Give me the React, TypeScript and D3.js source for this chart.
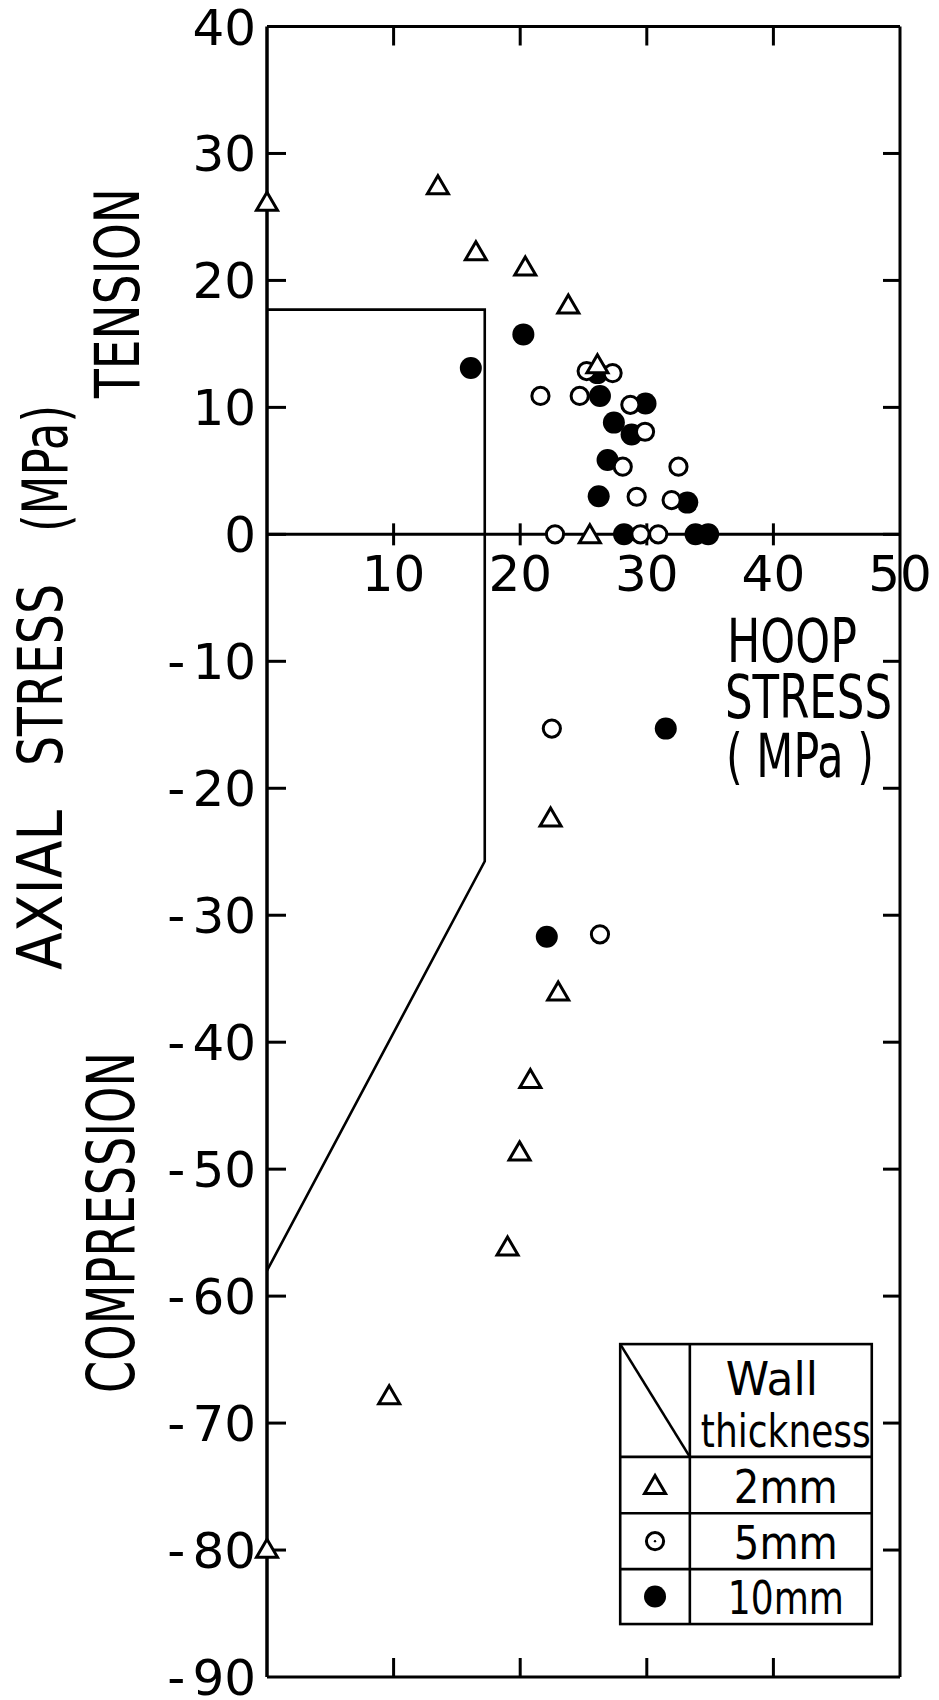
import * as d3 from "d3";

// hoop stress / axial stress, MPa
const hoopTicks = [10, 20, 30, 40, 50];
const axialTicks = [40, 30, 20, 10, 0, -10, -20, -30, -40, -50, -60, -70, -80, -90];

// wall thickness 2 mm (triangles)
const wall2mm: [number, number][] = [
  [0, 26.2], [13.5, 27.5], [16.5, 22.3], [20.4, 21.1], [23.8, 18.1], [26.1, 13.4],
  [25.5, 0], [22.4, -22.3], [23.0, -36.0], [20.8, -42.9], [19.95, -48.6], [19.0, -56.1],
  [9.65, -67.8], [0, -79.9],
];

// wall thickness 5 mm (open circles)
const wall5mm: [number, number][] = [
  [21.6, 10.9], [24.7, 10.9], [25.25, 12.86], [27.3, 12.7], [28.7, 10.2], [29.86, 8.08],
  [28.1, 5.33], [32.5, 5.33], [29.2, 2.96], [31.96, 2.7],
  [22.75, 0], [29.5, 0], [30.9, 0],
  [22.5, -15.3], [26.3, -31.5],
];

// wall thickness 10 mm (filled circles)
const wall10mm: [number, number][] = [
  [20.25, 15.75], [16.1, 13.1], [26.1, 12.7], [26.3, 10.9], [29.9, 10.3], [27.4, 8.8],
  [28.8, 7.87], [26.9, 5.85], [26.2, 3.0], [33.2, 2.5],
  [28.2, 0], [33.85, 0], [34.85, 0],
  [31.5, -15.3], [22.1, -31.7],
];

// design envelope
const envelope: [number, number][] = [[0, 17.7], [17.2, 17.7], [17.2, -25.75], [0, -58.0]];

const legendTitle = ["Wall", "thickness"];
const legendLabels = ["2mm", "5mm", "10mm"];

const FONT = "'DejaVu Sans', 'Liberation Sans', sans-serif";
const TRI = "M0,-9.5L10.5,8.5L-10.5,8.5Z";

function Marker({ kind }: { kind: number }) {
  if (kind === 0) return <path d={TRI} fill="#fff" stroke="#000" strokeWidth={3} />;
  if (kind === 1) return <circle r={8.6} fill="#fff" stroke="#000" strokeWidth={3} />;
  return <circle r={11} fill="#000" />;
}

export default function App() {
  const width = 939, height = 1700;
  const x = d3.scaleLinear().domain([0, 50]).range([267, 900]);
  const y = d3.scaleLinear().domain([40, -90]).range([26.5, 1677]);
  const line = d3.line<[number, number]>().x(d => x(d[0])).y(d => y(d[1]));

  const xL = x(0), xR = x(50), yT = y(40), yB = y(-90), yZ = y(0);
  const innerX = hoopTicks.filter(v => v < 50);
  const innerY = axialTicks.filter(v => v < 40 && v > -90);

  // legend table, in data units
  const lgX = [27.9, 33.4, 47.77].map(x);
  const lgY = [-63.78, -72.66, -77.1, -81.5, -85.83].map(y);
  const cellCx = (lgX[0] + lgX[1]) / 2;
  const labelCx = (lgX[1] + lgX[2]) / 2 + 5;

  const rot = (tx: number, ty: number) => `translate(${tx},${ty}) rotate(-90)`;

  return (
    <svg width={width} height={height} style={{ position: "absolute", left: 0, top: 0, background: "#fff" }}
      fontFamily={FONT}>
      <rect width={width} height={height} fill="#fff" />

      {/* frame */}
      <g stroke="#000" strokeWidth={3} fill="none">
        <line x1={xL} x2={xR} y1={yT} y2={yT} />
        <line x1={xL} x2={xR} y1={yB} y2={yB} />
        <line x1={xL} x2={xL} y1={yT} y2={yB} strokeWidth={3.5} />
        <line x1={xR} x2={xR} y1={yT} y2={yB} />
        <line x1={xL} x2={xR} y1={yZ} y2={yZ} />
        {innerX.map(v => (
          <g key={"tx" + v}>
            <line x1={x(v)} x2={x(v)} y1={yT} y2={yT + 19} />
            <line x1={x(v)} x2={x(v)} y1={yB} y2={yB - 19} />
            <line x1={x(v)} x2={x(v)} y1={yZ - 11} y2={yZ + 11} />
          </g>
        ))}
        {innerY.map(v => (
          <g key={"ty" + v}>
            <line x1={xL} x2={xL + 19} y1={y(v)} y2={y(v)} />
            <line x1={xR} x2={xR - 17} y1={y(v)} y2={y(v)} />
          </g>
        ))}
      </g>

      {/* envelope */}
      <path d={line(envelope) ?? ""} fill="none" stroke="#000" strokeWidth={2.6} strokeLinejoin="miter" />

      {/* data */}
      {wall10mm.map((d, i) => (
        <g key={"f" + i} transform={`translate(${x(d[0])},${y(d[1])})`}><Marker kind={2} /></g>
      ))}
      {wall5mm.map((d, i) => (
        <g key={"o" + i} transform={`translate(${x(d[0])},${y(d[1])})`}><Marker kind={1} /></g>
      ))}
      {wall2mm.map((d, i) => (
        <g key={"t" + i} transform={`translate(${x(d[0])},${y(d[1])})`}><Marker kind={0} /></g>
      ))}

      {/* tick labels */}
      <g fontSize={50} fill="#000">
        {axialTicks.map(v => (
          <text key={"ly" + v} x={xL - 11} y={y(v) + 18} textAnchor="end">
            {v < 0 ? <><tspan>-</tspan><tspan dx={7}>{String(-v)}</tspan></> : String(v)}
          </text>
        ))}
      </g>
      <g fontSize={50} fill="#000" textAnchor="middle">
        {hoopTicks.map(v => (
          <text key={"lx" + v} x={x(v)} y={yZ + 57}>{String(v)}</text>
        ))}
      </g>

      {/* axis titles */}
      <g fill="#000" fontSize={62}>
        <text transform={rot(139, 398)} textLength={210} lengthAdjust="spacingAndGlyphs">TENSION</text>
        <text transform={rot(134, 1393)} textLength={341} lengthAdjust="spacingAndGlyphs" fontSize={65}>COMPRESSION</text>
        <text transform={rot(62, 970)} textLength={160} lengthAdjust="spacingAndGlyphs">AXIAL</text>
        <text transform={rot(62, 766)} textLength={182} lengthAdjust="spacingAndGlyphs">STRESS</text>
        <text transform={rot(67, 532)} textLength={127} lengthAdjust="spacingAndGlyphs">(MPa)</text>
      </g>
      <g fill="#000" fontSize={60}>
        <text x={727} y={662} textLength={130} lengthAdjust="spacingAndGlyphs">HOOP</text>
        <text x={725} y={718} textLength={167} lengthAdjust="spacingAndGlyphs">STRESS</text>
        <text x={726} y={777} textLength={148} lengthAdjust="spacingAndGlyphs">( MPa )</text>
      </g>

      {/* legend */}
      <g stroke="#000" strokeWidth={2.6} fill="none">
        <rect x={lgX[0]} y={lgY[0]} width={lgX[2] - lgX[0]} height={lgY[4] - lgY[0]} fill="#fff" />
        <line x1={lgX[1]} x2={lgX[1]} y1={lgY[0]} y2={lgY[4]} />
        {lgY.slice(1, 4).map((v, i) => (
          <line key={"lr" + i} x1={lgX[0]} x2={lgX[2]} y1={v} y2={v} />
        ))}
        <line x1={lgX[0]} y1={lgY[0]} x2={lgX[1]} y2={lgY[1]} />
      </g>
      <g fill="#000" fontSize={47}>
        <text x={lgX[1] + 36} y={lgY[0] + 51} textLength={92} lengthAdjust="spacingAndGlyphs">{legendTitle[0]}</text>
        <text x={lgX[1] + 11} y={lgY[1] - 10} textLength={170} lengthAdjust="spacingAndGlyphs">{legendTitle[1]}</text>
        {legendLabels.map((s, i) => (
          <text key={s} x={labelCx} y={lgY[i + 2] - 10.5} textAnchor="middle"
            textLength={s.length > 3 ? 116 : 104} lengthAdjust="spacingAndGlyphs">{s}</text>
        ))}
      </g>
      {legendLabels.map((s, i) => (
        <g key={"lm" + s} transform={`translate(${cellCx},${(lgY[i + 1] + lgY[i + 2]) / 2})`}>
          <Marker kind={i} />
          {i === 1 && <circle r={1.2} fill="#000" />}
        </g>
      ))}
    </svg>
  );
}
